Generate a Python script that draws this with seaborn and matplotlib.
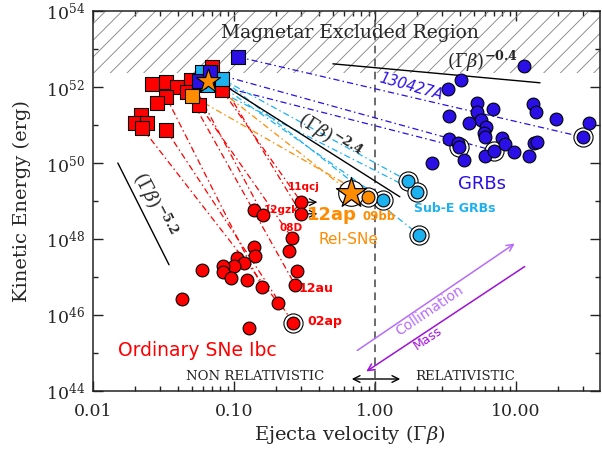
import numpy as np
import pandas as pd
import matplotlib
matplotlib.use("Agg")
import matplotlib.pyplot as plt
import seaborn as sns
from matplotlib.ticker import FixedLocator, FixedFormatter, NullFormatter, LogLocator

# ---------------- data ----------------
# Ordinary SNe Ibc: early-time (squares) and late-time radio (circles)
sn_sq_v = [0.0262, 0.033, 0.0394, 0.0496, 0.0465, 0.033, 0.0284, 0.0219, 0.0199,
           0.0242, 0.0223, 0.033, 0.0565, 0.0698, 0.0822]
sn_sq_E = [1.2e52, 1.35e52, 1.0e52, 1.5e52, 7.4e51, 5.5e51, 3.8e51, 1.8e51, 1.12e51,
           1.12e51, 8.3e50, 7.4e50, 3.4e51, 3.4e52, 8.3e51]
sn_v = [0.30, 0.30, 0.139, 0.161, 0.258, 0.245, 0.139, 0.141, 0.105, 0.118, 0.100,
        0.0835, 0.0835, 0.0593, 0.0953, 0.124, 0.158, 0.280, 0.271, 0.0428, 0.205,
        0.262, 0.128]
sn_E = [9.3e48, 4.6e48, 5.8e48, 4.3e48, 1.07e48, 4.8e47, 6.2e47, 3.5e47, 3.2e47,
        2.3e47, 1.95e47, 1.95e47, 1.35e47, 1.5e47, 9.3e46, 8.3e46, 5.5e46, 1.45e47,
        6.2e46, 2.6e46, 2.1e46, 6.2e45, 4.6e45]
sn_lower_limit = [0, 1]          # circles with arrows (lower limits in velocity)
sn_ringed = [21]
sn_links = [(10, 20), (11, 21), (4, 18), (12, 4), (14, 0), (13, 1), (3, 3), (5, 16)]
sn_names = {0: "11qcj", 3: "12gzk", 4: "08D", 18: "12au", 21: "02ap"}

# GRBs
grb_v = [11.4, 4.07, 3.30, 5.29, 6.87, 5.29, 3.35, 5.65, 4.64, 6.12, 5.93, 5.99, 3.35,
         3.88, 3.96, 4.28, 2.54, 5.99, 6.98, 7.96, 8.36, 9.68, 12.4, 13.4, 14.1, 13.2,
         13.9, 19.2, 33.0, 29.9]
grb_E = [3.5e52, 1.5e52, 8.9e51, 3.8e51, 2.6e51, 2.2e51, 1.74e51, 1.35e51, 1.12e51,
         8.9e50, 6.2e50, 4.8e50, 4.3e50, 3.4e50, 2.6e50, 1.2e50, 1.0e50, 1.5e50, 2.1e50,
         4.6e50, 3.2e50, 1.95e50, 1.5e50, 3.4e50, 3.5e50, 3.5e51, 2.2e51, 1.45e51,
         1.12e51, 4.8e50]
grb_ringed = [14, 18, 29]
grb_sq_v = [0.1066, 0.0565, 0.0676]
grb_sq_E = [6.2e52, 1.45e52, 2.45e52]
grb_links = [(0, 29), (2, 18), (1, 14)]

# sub-energetic GRBs
sub_v = [1.71, 1.99, 1.14, 2.05]
sub_E = [3.4e49, 1.74e49, 1.07e49, 1.3e48]
sub_sq_v = [0.0593, 0.0822, 0.0644]
sub_sq_E = [2.45e52, 1.62e52, 1.12e52]
sub_links = [(1, 0), (2, 1), (0, 2), (1, 3)]

# relativistic SNe
rel_bb_v, rel_bb_E = [0.89], [1.29e49]      # 2009bb
rel_ap_v, rel_ap_E = [0.676], [1.62e49]     # 2012ap
rel_bb_sq_v, rel_bb_sq_E = [0.0503], [5.8e51]
rel_ap_sq_v, rel_ap_sq_E = [0.0655], [1.45e52]

# guide power laws (endpoints)
pl_labels = ["-0.4", "-2.4", "-5.2"]
pl_v = [(0.503, 14.8), (0.0937, 1.50), (0.0150, 0.0346)]
pl_E = [(4.07e52, 1.29e52), (8.9e51, 1.29e49), (1.0e50, 2.1e47)]

magnetar_Emax = 2.3e52
x_ticks = [0.01, 0.1, 1, 10]
x_ticklabels = ["0.01", "0.10", "1.00", "10.00"]
y_exps = [44, 46, 48, 50, 52, 54]

# ---------------- style ----------------
sns.set_theme(style="ticks")
plt.rcParams['font.family'] = ['DejaVu Serif']
plt.rcParams['mathtext.fontset'] = 'dejavuserif'
plt.rcParams['hatch.linewidth'] = 0.6

RED = '#ff0000'
BLUE = '#2a10e6'
LBLUE = '#1db1f0'
ORANGE = '#ff8c00'
DASHDOT = (0, (5, 2.5, 1.2, 2.5))

fig = plt.figure(figsize=(6.02, 4.5), dpi=100)
ax = fig.add_axes([93 / 602, 59 / 450, 507 / 602, 380 / 450])
ax.set_xscale('log')
ax.set_yscale('log')
ax.set_xlim(0.01, 39.4)
ax.set_ylim(1e44, 1e54)

# hatched magnetar region
ax.axhspan(magnetar_Emax, 1e54, facecolor='none', edgecolor='#808080', hatch='//',
           linewidth=0, zorder=1)
ax.axvline(1.0, color='#444444', lw=1.1, ls=(0, (5, 3.5)), zorder=2)


def P(x, y):
    return ((x - 93) / 507, (391 - y) / 380)


def link(xs, ys, xe, ye, links, color):
    for i, j in links:
        df = pd.DataFrame({'v': [xs[i], xe[j]], 'E': [ys[i], ye[j]]})
        sns.lineplot(data=df, x='v', y='E', ax=ax, color=color, lw=0.9,
                     linestyle=DASHDOT, sort=False, estimator=None, zorder=2)


link(sn_sq_v, sn_sq_E, sn_v, sn_E, sn_links, RED)
link(grb_sq_v, grb_sq_E, grb_v, grb_E, grb_links, BLUE)
link(sub_sq_v, sub_sq_E, sub_v, sub_E, sub_links, LBLUE)
link(rel_bb_sq_v, rel_bb_sq_E, rel_bb_v, rel_bb_E, [(0, 0)], ORANGE)
link(rel_ap_sq_v, rel_ap_sq_E, rel_ap_v, rel_ap_E, [(0, 0)], ORANGE)

# power-law guides
for (v0, v1), (e0, e1) in zip(pl_v, pl_E):
    ax.plot([v0, v1], [e0, e1], color='black', lw=1.0, zorder=2)

# lower-limit arrows
for i in sn_lower_limit:
    ax.annotate('', xy=(sn_v[i] * 1.36, sn_E[i]), xytext=(sn_v[i], sn_E[i]),
                arrowprops=dict(arrowstyle='->', color='black', lw=0.9), zorder=3)

# rings
ring_v = [sn_v[i] for i in sn_ringed] + [grb_v[i] for i in grb_ringed] + sub_v + rel_bb_v
ring_E = [sn_E[i] for i in sn_ringed] + [grb_E[i] for i in grb_ringed] + sub_E + rel_bb_E
sns.scatterplot(x=ring_v, y=ring_E, s=190, color='white', edgecolor='black',
                linewidth=0.8, ax=ax, zorder=3)
sns.scatterplot(x=rel_ap_v, y=rel_ap_E, s=340, color='white', edgecolor='black',
                linewidth=0.8, ax=ax, zorder=3)

# squares (early-time)
sns.scatterplot(x=sn_sq_v, y=sn_sq_E, marker='s', s=100, color=RED, edgecolor='black',
                linewidth=0.8, ax=ax, zorder=4)
sns.scatterplot(x=rel_bb_sq_v, y=rel_bb_sq_E, marker='s', s=100, color=ORANGE,
                edgecolor='black', linewidth=0.8, ax=ax, zorder=5)
sns.scatterplot(x=sub_sq_v, y=sub_sq_E, marker='s', s=100, color=LBLUE,
                edgecolor='black', linewidth=0.8, ax=ax, zorder=5)
sns.scatterplot(x=grb_sq_v, y=grb_sq_E, marker='s', s=100, color=BLUE,
                edgecolor='black', linewidth=0.8, ax=ax, zorder=5)
sns.scatterplot(x=rel_ap_sq_v, y=rel_ap_sq_E, marker='*', s=330, color=ORANGE,
                edgecolor='black', linewidth=0.8, ax=ax, zorder=6)

# circles (late-time)
sns.scatterplot(x=sn_v, y=sn_E, s=85, color=RED, edgecolor='black', linewidth=0.8,
                ax=ax, zorder=4)
sns.scatterplot(x=grb_v, y=grb_E, s=85, color=BLUE, edgecolor='black', linewidth=0.8,
                ax=ax, zorder=4)
sns.scatterplot(x=sub_v, y=sub_E, s=85, color=LBLUE, edgecolor='black', linewidth=0.8,
                ax=ax, zorder=4)
sns.scatterplot(x=rel_bb_v, y=rel_bb_E, s=85, color=ORANGE, edgecolor='black',
                linewidth=0.8, ax=ax, zorder=4)
sns.scatterplot(x=rel_ap_v, y=rel_ap_E, marker='*', s=520, color=ORANGE,
                edgecolor='black', linewidth=0.9, ax=ax, zorder=5)

# ---------------- axes ----------------
ax.xaxis.set_major_locator(FixedLocator(x_ticks))
ax.xaxis.set_major_formatter(FixedFormatter(x_ticklabels))
ax.xaxis.set_minor_locator(LogLocator(base=10, subs=np.arange(2, 10)))
ax.xaxis.set_minor_formatter(NullFormatter())
ax.yaxis.set_major_locator(FixedLocator([10.0 ** e for e in y_exps]))
ax.yaxis.set_major_formatter(FixedFormatter([f"$10^{{{e}}}$" for e in y_exps]))
ax.yaxis.set_minor_locator(FixedLocator([10.0 ** e for e in range(45, 54, 2)]))
ax.yaxis.set_minor_formatter(NullFormatter())
ax.tick_params(which='both', direction='in', top=True, right=True, width=1.0,
               color='#222222')
ax.tick_params(which='major', length=7.5, labelsize=12.5)
ax.tick_params(axis='x', which='major', pad=9)
ax.tick_params(axis='y', which='major', pad=6)
ax.tick_params(which='minor', length=3.8)
for s in ax.spines.values():
    s.set_linewidth(1.1)
    s.set_color('#222222')

ax.set_xlabel(r"Ejecta velocity ($\Gamma\beta$)", fontsize=14)
ax.set_ylabel("Kinetic Energy (erg)", fontsize=14)
ax.xaxis.set_label_coords(0.507, -0.083)
ax.yaxis.set_label_coords(-0.122, 0.5)

# ---------------- annotations ----------------
T = ax.transAxes
ax.text(*P(350, 33), "Magnetar Excluded Region", transform=T, fontsize=13.5,
        ha='center', va='center', zorder=7)
ax.text(*P(483, 61), r"$(\Gamma\beta)^{\mathbf{" + pl_labels[0] + "}}$", transform=T,
        fontsize=13, ha='center', va='center', zorder=7)
ax.text(*P(330, 137), r"$(\Gamma\beta)^{\mathbf{" + pl_labels[1] + "}}$", transform=T,
        fontsize=13, ha='center', va='center', rotation=-33, zorder=7)
ax.text(*P(154, 205), r"$(\Gamma\beta)^{\mathbf{" + pl_labels[2] + "}}$", transform=T,
        fontsize=13, ha='center', va='center', rotation=-63, zorder=7)

SANS = 'DejaVu Sans'
ax.text(*P(411, 87), "130427A", transform=T, family=SANS, style='italic',
        fontsize=10.5, color=BLUE, ha='center', va='center', rotation=-16)
ax.text(*P(482, 184), "GRBs", transform=T, family=SANS, fontsize=13, color=BLUE,
        ha='center', va='center')
ax.text(*P(455, 209), "Sub-E GRBs", transform=T, family=SANS, fontsize=9,
        fontweight='bold', color=LBLUE, ha='center', va='center')
ax.text(*P(332, 215), "12ap", transform=T, family=SANS, fontsize=13,
        fontweight='bold', color=ORANGE, ha='center', va='center')
ax.text(*P(379, 217), "09bb", transform=T, family=SANS, fontsize=8.5,
        fontweight='bold', color=ORANGE, ha='center', va='center')
ax.text(*P(348, 240), "Rel-SNe", transform=T, family=SANS, fontsize=11,
        color=ORANGE, ha='center', va='center')
ax.text(*P(197, 350), "Ordinary SNe Ibc", transform=T, family=SANS, fontsize=13.5,
        color=RED, ha='center', va='center')
name_pos = {0: (304, 187, 7.5), 3: (281, 210, 7.5), 4: (291, 228, 7.5),
            18: (316, 288, 9), 21: (325, 321, 9)}
for i, name in sn_names.items():
    x, y, fs = name_pos[i]
    ax.text(*P(x, y), name, transform=T, family=SANS, fontsize=fs,
            fontweight='bold', color=RED, ha='center', va='center')

ax.text(*P(255, 377), "NON RELATIVISTIC", transform=T, fontsize=9.5,
        ha='center', va='center')
ax.text(*P(465, 377), "RELATIVISTIC", transform=T, fontsize=9.5,
        ha='center', va='center')
ax.annotate('', xy=P(403, 379), xytext=P(349, 379), xycoords=T, textcoords=T,
            arrowprops=dict(arrowstyle='<->', color='black', lw=1.0))

ax.annotate('', xy=P(517, 242), xytext=P(355, 352), xycoords=T, textcoords=T,
            arrowprops=dict(arrowstyle='->', color='#b76cf8', lw=1.1))
ax.text(*P(430, 311), "Collimation", transform=T, family=SANS, fontsize=10,
        color='#b76cf8', ha='center', va='center', rotation=34)
ax.annotate('', xy=P(364, 373), xytext=P(527, 265), xycoords=T, textcoords=T,
            arrowprops=dict(arrowstyle='->', color='#9e12d8', lw=1.1))
ax.text(*P(428, 338), "Mass", transform=T, family=SANS, fontsize=9,
        color='#9e12d8', ha='center', va='center', rotation=34)

fig.savefig("out.png", dpi=100)
